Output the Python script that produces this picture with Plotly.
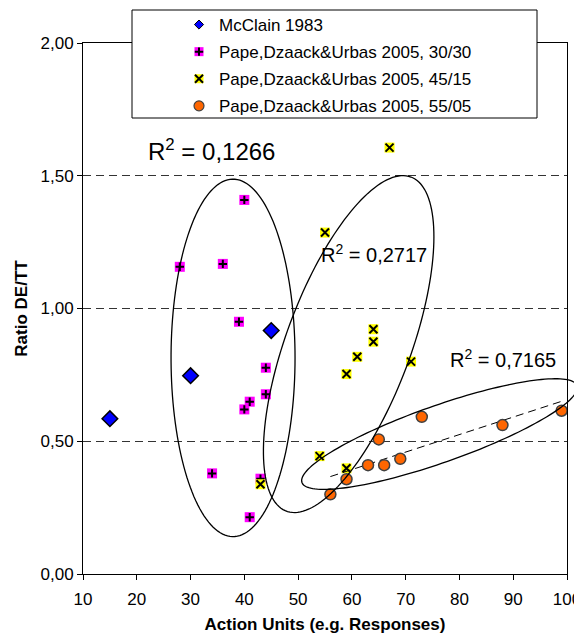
import numpy as np
import plotly.graph_objects as go

# ---------------- data ----------------
series_names = [
    "McClain 1983",
    "Pape,Dzaack&Urbas 2005, 30/30",
    "Pape,Dzaack&Urbas 2005, 45/15",
    "Pape,Dzaack&Urbas 2005, 55/05",
]
mcclain_x = [15, 30, 45]
mcclain_y = [0.585, 0.747, 0.917]

pape_3030_x = [28, 36, 40, 39, 44, 44, 41, 40, 34, 43, 41]
pape_3030_y = [1.157, 1.168, 1.409, 0.950, 0.777, 0.677, 0.649, 0.620, 0.379, 0.359, 0.214]

pape_4515_x = [67, 55, 64, 64, 61, 59, 71, 54, 59, 43]
pape_4515_y = [1.606, 1.286, 0.922, 0.875, 0.818, 0.753, 0.800, 0.444, 0.398, 0.338]

pape_5505_x = [56, 59, 63, 65, 66, 69, 73, 88, 99]
pape_5505_y = [0.300, 0.357, 0.410, 0.507, 0.410, 0.434, 0.592, 0.561, 0.615]

r2_texts = ["0,1266", "0,2717", "0,7165"]
x_ticks = [10, 20, 30, 40, 50, 60, 70, 80, 90, 100]
y_ticks = [0.0, 0.5, 1.0, 1.5, 2.0]

# ---------------- layout constants ----------------
PAGE_OFF = 8                      # default body margin of the html page
W, H = 582 - PAGE_OFF, 642 - 2 * PAGE_OFF
PLOT_L, PLOT_R, PLOT_T, PLOT_B = 83, 567, 43, 574   # page pixels
ML = PLOT_L - PAGE_OFF
MT = PLOT_T - PAGE_OFF
MR = W - (PLOT_R - PAGE_OFF)
MB = H - (PLOT_B - PAGE_OFF)
PW, PH = PLOT_R - PLOT_L, PLOT_B - PLOT_T
XR = (10, 100)
YR = (0, 2)
FONT = "Liberation Sans, Arial, sans-serif"
LEG_FONT = 17
LEG_GAP = 2
LEG_ROW = LEG_FONT * 1.3 + 3 + LEG_GAP   # plotly legend row pitch

def to_paper_x(x):
    return (x - XR[0]) / (XR[1] - XR[0])

def to_paper_y(y):
    return (y - YR[0]) / (YR[1] - YR[0])

def page_px_to_paper(px, py):
    return (px - PLOT_L) / PW, (PLOT_B - py) / PH

def ellipse_path(cx, cy, a_px, b_px, ang_deg, n=160):
    th = np.radians(ang_deg)
    t = np.linspace(0, 2 * np.pi, n)
    dx = a_px * np.cos(t) * np.cos(th) - b_px * np.sin(t) * np.sin(th)
    dy = a_px * np.cos(t) * np.sin(th) + b_px * np.sin(t) * np.cos(th)
    px = to_paper_x(cx) + dx / PW
    py = to_paper_y(cy) + dy / PH
    pts = [f"{x:.5f},{y:.5f}" for x, y in zip(px, py)]
    return "M " + " L ".join(pts) + " Z"

# ellipse annotations: (center x, center y, semi-axis a px, semi-axis b px, angle)
ellipses = [
    (37.9, 0.814, 62, 178.7, 0),
    (59.4, 0.866, 178.3, 62.1, 69.55),
    (76.29, 0.527, 145.8, 28.4, 19.4),
]

fig = go.Figure()

# data traces
fig.add_trace(go.Scatter(
    x=mcclain_x, y=mcclain_y, mode="markers", showlegend=False,
    marker=dict(symbol="diamond", size=12, color="#0000FF",
                line=dict(color="black", width=1.5)),
))
fig.add_trace(go.Scatter(
    x=pape_3030_x, y=pape_3030_y, mode="markers", showlegend=False,
    marker=dict(symbol="square", size=10, color="#FF00FF", line=dict(width=0)),
))
fig.add_trace(go.Scatter(
    x=pape_3030_x, y=pape_3030_y, mode="markers", name=" ",
    legend="legend2", legendgroup="g2b", legendrank=2, showlegend=True,
    marker=dict(symbol="cross-thin", size=6, color="black",
                line=dict(color="black", width=2)),
))
fig.add_trace(go.Scatter(
    x=pape_4515_x, y=pape_4515_y, mode="markers", showlegend=False,
    marker=dict(symbol="square", size=10, color="#FFFF00", line=dict(width=0)),
))
fig.add_trace(go.Scatter(
    x=pape_4515_x, y=pape_4515_y, mode="markers", name=" ",
    legend="legend2", legendgroup="g3b", legendrank=3, showlegend=True,
    marker=dict(symbol="x-thin", size=8, color="black",
                line=dict(color="black", width=2)),
))

# linear trend line for the 55/05 series
coef = np.polyfit(pape_5505_x, pape_5505_y, 1)
tx = np.array([min(pape_5505_x), max(pape_5505_x)])
fig.add_trace(go.Scatter(
    x=tx, y=np.polyval(coef, tx), mode="lines", showlegend=False,
    line=dict(color="black", width=1, dash="8px,5px"),
))
fig.add_trace(go.Scatter(
    x=pape_5505_x, y=pape_5505_y, mode="markers", showlegend=False,
    marker=dict(symbol="circle", size=11, color="#FF6600",
                line=dict(color="#404040", width=1.5)),
))

# legend entries (legend 1 : base symbols)
leg_markers = [
    dict(symbol="diamond", size=7, color="#0000FF", line=dict(color="black", width=1)),
    dict(symbol="square", size=9, color="#FF00FF", line=dict(width=0)),
    dict(symbol="square", size=9, color="#FFFF00", line=dict(width=0)),
    dict(symbol="circle", size=10, color="#FF6600", line=dict(color="#404040", width=1.2)),
]
for i, (nm, mk) in enumerate(zip(series_names, leg_markers)):
    fig.add_trace(go.Scatter(
        x=[None], y=[None], mode="markers", name=nm, legend="legend",
        legendgroup=f"g{i+1}", legendrank=i + 1, marker=mk, showlegend=True,
    ))

shapes = []
for (cx, cy, a, b, ang) in ellipses:
    shapes.append(dict(type="path", xref="paper", yref="paper",
                       path=ellipse_path(cx, cy, a, b, ang),
                       line=dict(color="black", width=1.3), layer="above"))
# legend frame
lx0, ly0 = page_px_to_paper(132, 118)
lx1, ly1 = page_px_to_paper(537, 10)
shapes.append(dict(type="rect", xref="paper", yref="paper",
                   x0=lx0, x1=lx1, y0=ly0, y1=ly1,
                   fillcolor="white", line=dict(color="black", width=1), layer="above"))

annotations = [
    dict(x=33.9, y=1.597, text="R<sup>2</sup> = " + r2_texts[0], font=dict(size=24)),
    dict(x=64.05, y=1.209, text="R<sup>2</sup> = " + r2_texts[1], font=dict(size=20)),
    dict(x=88.15, y=0.81, text="R<sup>2</sup> = " + r2_texts[2], font=dict(size=20)),
]
for an in annotations:
    an.update(xref="x", yref="y", showarrow=False, xanchor="center", yanchor="middle")
    an["font"].update(family=FONT, color="black")

legx, legy = page_px_to_paper(179, 7)
_, legy2 = page_px_to_paper(179, 7 + LEG_ROW)
leg_common = dict(
    x=legx, xanchor="left", yanchor="top",
    bgcolor="rgba(0,0,0,0)", borderwidth=0,
    traceorder="grouped", tracegroupgap=LEG_GAP,
    font=dict(family=FONT, size=LEG_FONT, color="black"),
)

fig.update_layout(
    width=W, height=H,
    margin=dict(l=ML, r=MR, t=MT, b=MB, autoexpand=False),
    paper_bgcolor="white", plot_bgcolor="white",
    separators=",.",
    font=dict(family=FONT, size=17, color="black"),
    showlegend=True,
    legend=dict(**leg_common, y=legy),
    legend2=dict(**leg_common, y=legy2),
    shapes=shapes,
    annotations=annotations,
    xaxis=dict(
        range=list(XR), tickvals=x_ticks, ticks="outside", ticklen=5, tickcolor="black",
        showgrid=False, zeroline=False, showline=True, linecolor="black", linewidth=1,
        mirror=True, tickfont=dict(size=17), ticklabelstandoff=5,
        title=dict(text="<b>Action Units (e.g. Responses)</b>", font=dict(size=17), standoff=12),
        automargin=False,
    ),
    yaxis=dict(
        range=list(YR), tickvals=y_ticks, tickformat=".2f", ticks="outside", ticklen=5,
        tickcolor="black", showgrid=True, gridcolor="#333333", griddash="8px,5px", gridwidth=1,
        zeroline=False, showline=True, linecolor="black", linewidth=1, mirror=True,
        tickfont=dict(size=17),
        title=dict(text="<b>Ratio DE/TT</b>", font=dict(size=17), standoff=8),
        automargin=False,
    ),
)

fig.write_html("out.html")
